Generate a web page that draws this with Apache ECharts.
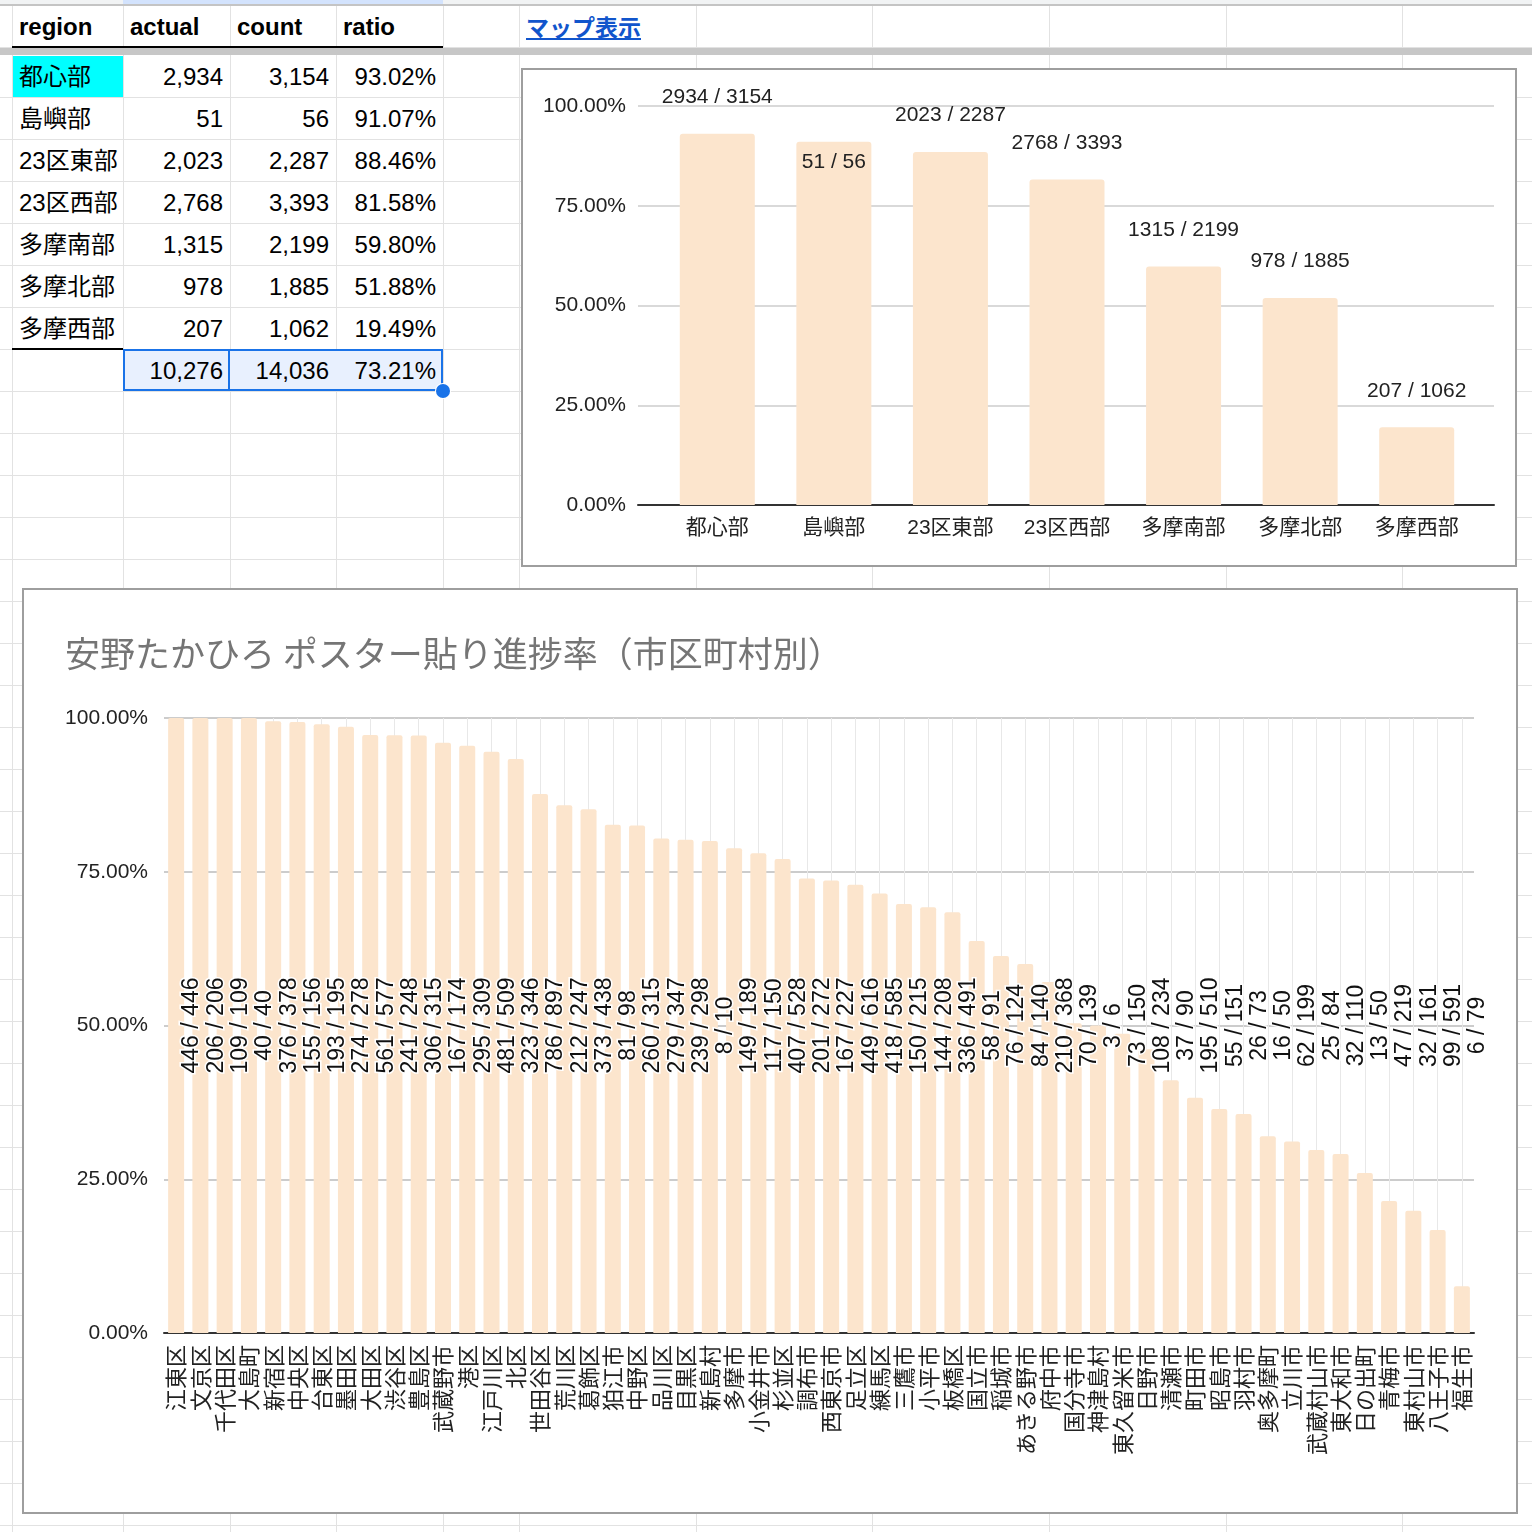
<!DOCTYPE html>
<html>
<head>
<meta charset="utf-8">
<script src="https://cdn.jsdelivr.net/npm/echarts@6/dist/echarts.min.js"></script>
<style>
html,body{margin:0;padding:0;background:#fff;}
#page{position:relative;width:1532px;height:1532px;overflow:hidden;font-family:'Liberation Sans','Noto Sans CJK JP',sans-serif;}
.cell{position:absolute;height:42px;line-height:42px;font-size:24px;color:#000;box-sizing:border-box;padding:0 7px;white-space:nowrap;}
.box{position:absolute;border:2px solid #9e9e9e;box-sizing:border-box;background:#fff;}
.inner{position:absolute;left:0;top:0;right:0;bottom:0;}
</style>
</head>
<body>
<div id="page">
  <div id="sheet"></div>
  <div class="box" style="left:521px;top:68px;width:996px;height:499px;"><div id="topChart" class="inner"></div></div>
  <div class="box" style="left:22px;top:588px;width:1496px;height:926px;"><div id="bottomChart" class="inner"></div></div>
</div>
<script>
// ---------- data ----------
const headers = ['region', 'actual', 'count', 'ratio'];
const regions = ['都心部', '島嶼部', '23区東部', '23区西部', '多摩南部', '多摩北部', '多摩西部'];
const regionActual = [2934, 51, 2023, 2768, 1315, 978, 207];
const regionCount = [3154, 56, 2287, 3393, 2199, 1885, 1062];

const chartTitle = '安野たかひろ ポスター貼り進捗率（市区町村別）';
const linkText = 'マップ表示';

const municipalities = ['江東区','文京区','千代田区','大島町','新宿区','中央区','台東区','墨田区','大田区','渋谷区',
  '豊島区','武蔵野市','港区','江戸川区','北区','世田谷区','荒川区','葛飾区','狛江市','中野区',
  '品川区','目黒区','新島村','多摩市','小金井市','杉並区','調布市','西東京市','足立区','練馬区',
  '三鷹市','小平市','板橋区','国立市','稲城市','あきる野市','府中市','国分寺市','神津島村','東久留米市',
  '日野市','清瀬市','町田市','昭島市','羽村市','奥多摩町','立川市','武蔵村山市','東大和市','日の出町',
  '青梅市','東村山市','八王子市','福生市'];
const muniActual = [446,206,109,40,376,155,193,274,561,241,
  306,167,295,481,323,786,212,373,81,260,
  279,239,8,149,117,407,201,167,449,418,
  150,144,336,58,76,84,210,70,3,73,
  108,37,195,55,26,16,62,25,32,13,
  47,32,99,6];
const muniCount = [446,206,109,40,378,156,195,278,577,248,
  315,174,309,509,346,897,247,438,98,315,
  347,298,10,189,150,528,272,227,616,585,
  215,208,491,91,124,140,368,139,6,150,
  234,90,510,151,73,50,199,84,110,50,
  219,161,591,79];

// ---------- spreadsheet background ----------
const sheet = document.getElementById('sheet');
function box(l, t, w, h, style) {
  const d = document.createElement('div');
  d.style.position = 'absolute';
  d.style.left = l + 'px'; d.style.top = t + 'px';
  d.style.width = w + 'px'; d.style.height = h + 'px';
  Object.assign(d.style, style || {});
  sheet.appendChild(d);
  return d;
}
const colLines = [12, 123, 230, 336, 443, 519, 696, 872, 1049, 1226, 1402];
box(0, 0, 1532, 4, {background: '#f1f3f4'});
box(123, 0, 320, 4, {background: '#d3e3fd'});
box(0, 4, 1532, 2, {background: '#c4c4c4'});
colLines.forEach(x => box(x, 6, 1, 1526, {background: '#e2e2e2'}));
box(0, 47, 1532, 1, {background: '#e2e2e2'});
for (let y = 97; y < 1532; y += 42) box(0, y, 1532, 1, {background: '#e2e2e2'});
box(0, 48, 1532, 7, {background: '#c7c7c7'});
box(13, 56, 110, 41, {background: '#00ffff'});

function cellText(text, l, r, t, align, extra) {
  const d = document.createElement('div');
  d.className = 'cell';
  d.style.left = l + 'px'; d.style.width = (r - l) + 'px'; d.style.top = t + 'px';
  d.style.textAlign = align;
  d.textContent = text;
  Object.assign(d.style, extra || {});
  sheet.appendChild(d);
}
const fmt = n => n.toLocaleString('en-US');
const pct = v => (v * 100).toFixed(2) + '%';
const cellCols = [[12, 123], [123, 230], [230, 336], [336, 443]];
headers.forEach((h, i) => cellText(h, cellCols[i][0], cellCols[i][1], 6, 'left', {fontWeight: 'bold'}));
regions.forEach((r, i) => {
  const t = 56 + i * 42;
  cellText(r, 12, 123, t, 'left');
  cellText(fmt(regionActual[i]), 123, 230, t, 'right');
  cellText(fmt(regionCount[i]), 230, 336, t, 'right');
  cellText(pct(regionActual[i] / regionCount[i]), 336, 443, t, 'right');
});
const totActual = regionActual.reduce((a, b) => a + b, 0);
const totCount = regionCount.reduce((a, b) => a + b, 0);
box(123, 349, 320, 42, {background: '#e8f0fe', border: '2px solid #1a73e8', boxSizing: 'border-box'});
box(123, 349, 107, 42, {border: '2px solid #1a73e8', boxSizing: 'border-box'});
cellText(fmt(totActual), 123, 230, 350, 'right');
cellText(fmt(totCount), 230, 336, 350, 'right');
cellText(pct(totActual / totCount), 336, 443, 350, 'right');
box(12, 46, 431, 2, {background: '#000'});
box(12, 348, 111, 2, {background: '#000'});
box(436, 384, 14, 14, {background: '#1a73e8', borderRadius: '50%', boxShadow: '0 0 0 1px #fff'});
const link = document.createElement('div');
link.textContent = linkText;
Object.assign(link.style, {position: 'absolute', left: '526px', top: '5px', height: '42px', lineHeight: '42px',
  fontSize: '23px', color: '#1155cc', textDecoration: 'underline', fontWeight: 'bold', fontFamily: "'Noto Sans CJK JP',sans-serif"});
sheet.appendChild(link);

// ---------- charts ----------
const FONT = "'Liberation Sans','Noto Sans CJK JP',sans-serif";
const axisPct = v => (v * 100).toFixed(2) + '%';

// Top chart
const topChart = echarts.init(document.getElementById('topChart'));
const regionRatio = regions.map((r, i) => regionActual[i] / regionCount[i]);
topChart.setOption({
  animation: false,
  textStyle: {fontFamily: FONT},
  grid: [
    {left: 115, right: 21, top: 36, bottom: 60},
    {left: 136, right: 40, top: 36, bottom: 60}
  ],
  xAxis: [
    {gridIndex: 0, type: 'category', data: [''], axisLine: {lineStyle: {color: '#333', width: 2}},
      axisTick: {show: false}, axisLabel: {show: false}, splitLine: {show: false}},
    {gridIndex: 1, type: 'category', data: regions, axisLine: {show: false}, axisTick: {show: false},
      axisLabel: {color: '#222', fontSize: 21, margin: 13, fontFamily: FONT}}
  ],
  yAxis: [
    {gridIndex: 0, type: 'value', min: 0, max: 1, interval: 0.25,
      axisLabel: {formatter: axisPct, color: '#222', fontSize: 21, margin: 12, fontFamily: FONT},
      splitLine: {lineStyle: {color: '#cccccc', width: 1.5}}, axisLine: {show: false}, axisTick: {show: false}},
    {gridIndex: 1, type: 'value', min: 0, max: 1, show: false}
  ],
  series: [{
    type: 'bar', xAxisIndex: 1, yAxisIndex: 1, barWidth: 75,
    itemStyle: {color: '#fce5cd', borderRadius: [3, 3, 0, 0]},
    label: {show: true, position: 'top', distance: 26, color: '#222', fontSize: 21, fontFamily: FONT,
      formatter: p => regionActual[p.dataIndex] + ' / ' + regionCount[p.dataIndex]},
    data: regionRatio.map((v, i) => i === 1
      ? {value: v, label: {position: 'insideTop', distance: 10}}
      : {value: v})
  }]
});

// Bottom chart
const bottomEl = document.getElementById('bottomChart');
const bottomChart = echarts.init(bottomEl);
const W = bottomEl.clientWidth, H = bottomEl.clientHeight;
const gL = 140, gR = 42, gT = 128, gB = 179;
const band = (W - gL - gR) / municipalities.length;
const midY = gT + (H - gT - gB) * 0.5;
const muniRatio = municipalities.map((m, i) => muniActual[i] / muniCount[i]);
bottomChart.setOption({
  animation: false,
  textStyle: {fontFamily: FONT},
  title: {text: chartTitle, left: 36, top: 41,
    textStyle: {fontSize: 35, fontWeight: 'normal', color: '#757575', fontFamily: "'Noto Sans CJK JP',sans-serif"}},
  grid: [
    {left: gL, right: gR, top: gT, bottom: gB},
    {left: gL + band / 2, right: gR + band / 2, top: gT, bottom: gB}
  ],
  xAxis: [
    {gridIndex: 0, type: 'category', data: municipalities,
      axisLine: {lineStyle: {color: '#333', width: 2}}, axisTick: {show: false},
      axisLabel: {interval: 0, rotate: 90, fontSize: 22, color: '#222', margin: 12,
        fontFamily: "'Noto Sans CJK JP',sans-serif"},
      splitLine: {show: false}},
    {gridIndex: 1, type: 'category', data: municipalities, boundaryGap: false,
      axisLine: {show: false}, axisTick: {show: false}, axisLabel: {show: false},
      splitLine: {show: true, interval: 0, lineStyle: {color: '#e8e8e8', width: 1}}}
  ],
  yAxis: [
    {gridIndex: 0, type: 'value', min: 0, max: 1, interval: 0.25,
      axisLabel: {formatter: axisPct, color: '#222', fontSize: 21, margin: 16, fontFamily: FONT},
      splitLine: {lineStyle: {color: '#cccccc', width: 2}}, axisLine: {show: false}, axisTick: {show: false}},
    {gridIndex: 1, type: 'value', min: 0, max: 1, show: false}
  ],
  series: [{
    type: 'bar', xAxisIndex: 0, yAxisIndex: 0, barWidth: 16,
    itemStyle: {color: '#fce5cd', borderRadius: [2, 2, 0, 0]},
    data: muniRatio,
    label: {show: true, rotate: 90, color: '#111', fontSize: 23, fontFamily: FONT,
      textBorderColor: '#fff', textBorderWidth: 3,
      formatter: p => muniActual[p.dataIndex] + ' / ' + muniCount[p.dataIndex]},
    labelLayout: p => ({
      x: p.rect.x + p.rect.width / 2 + 16,
      y: midY,
      align: 'center', verticalAlign: 'middle', rotate: 90
    })
  }]
});
</script>
</body>
</html>
